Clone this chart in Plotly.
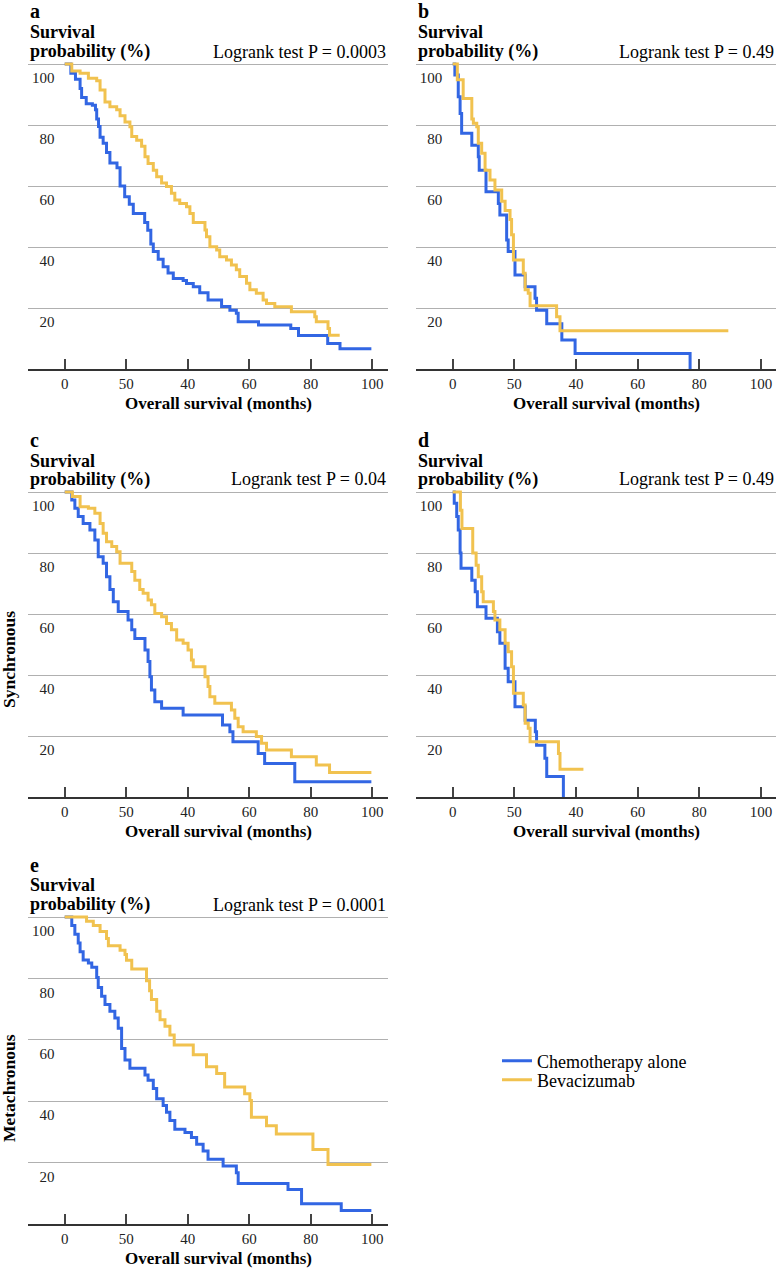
import plotly.graph_objects as go

W, H = 777, 1269
FONT = "Liberation Serif, Times New Roman, serif"
BLUE = "#3266E3"
GOLD = "#F1C24F"

# ---- data: Kaplan-Meier steps (month, survival %) ----
a_chemo = [(0,100),(2,97),(3.5,95),(5,92),(5.5,89),(7,87),(9,86.5),(10,85),(10.4,82),(11,79.5),(11.5,76),(12.5,74),(13.6,71),(14.7,67.5),(17,66),(18,60),(19.5,56.5),(21,54),(22.3,51),(26,48),(27,45.5),(28,41),(28.8,38.5),(30.4,36),(32,33.5),(33.6,31.5),(35.3,29.7),(38.5,29),(39.6,28),(41.8,27),(43.9,25),(46.6,22.6),(51,20.5),(53.7,19.3),(55.8,18.3),(56.4,15.5),(63,14.4),(73.5,13.3),(76,11),(85.5,8.4),(89.5,6.6),(99.7,6.6)]
a_bev = [(0,100),(2.3,97.7),(5,97),(7.7,95.3),(10.4,94.5),(11.5,91.5),(13.1,87.5),(14.7,86),(16.9,85),(18,83),(19.6,81),(21.2,79.4),(21.8,76.2),(23.4,75),(25,73),(26.1,69.6),(27.1,67.4),(28.8,65.2),(29.9,63),(31.5,61),(33.1,59.8),(34.7,57.6),(35.8,55.4),(37.4,54.3),(39.6,53.2),(40.7,51),(41.8,48),(45.6,45.6),(46.1,43.4),(47.2,40.1),(49.4,39),(50.4,36.8),(52.6,35.7),(54.2,34.1),(55.8,32.5),(56.9,30.3),(59.1,28.1),(60.2,26),(62.3,24.8),(64.5,22.6),(65.6,21.5),(68.3,20.4),(73.7,18.8),(81.3,17.1),(81.8,15.5),(85.6,13.3),(86.1,11.1),(89.4,11.1)]

b_chemo = [(0,100),(0.7,96.4),(1.8,89.3),(2.4,83.8),(2.9,77.3),(6.2,73.4),(8.3,69.6),(8.6,65.2),(10.8,58.1),(14.8,54.3),(15.3,50.5),(17.5,42.3),(18,38.5),(20.2,30.8),(23.5,27),(26.7,23.2),(27.2,19.3),(30.5,14.8),(35.4,9.5),(39.7,5.1),(77,0)]
b_bev = [(0,100),(1.5,94.8),(3.4,88.7),(6.2,82),(6.7,80.6),(7.8,79.4),(8.3,74),(9.4,70.7),(10.5,65.2),(12.1,62),(13.7,58.7),(15.9,55),(17,52),(18.6,49),(19.1,44),(19.7,35.7),(22.9,31.4),(23.5,26),(24.5,24.8),(25.1,20.7),(33.7,17.1),(34.8,12.5),(89.4,12.5)]

c_chemo = [(0,100),(2.3,97.4),(3.3,94.7),(4.4,92),(6,89.7),(8.2,87.5),(9.8,84.3),(10.9,78.8),(12.5,76.6),(13.6,72.2),(14.7,68),(15.8,64),(17.4,60.8),(20.6,58),(21.8,54.8),(22.8,52),(26.1,48.2),(27.1,44.4),(27.7,39.4),(28.2,35.1),(29.3,31.2),(31.5,29.1),(38.5,26.9),(51.3,23.6),(53.7,21.4),(54.7,18.1),(62.9,14.3),(65,11),(74.8,5),(99.7,5)]
c_bev = [(0,100),(2.5,98.5),(5,95.2),(7.7,94.7),(9.8,93),(11.5,89.7),(12.5,86.5),(13.6,83.7),(15.3,82.1),(16.9,80.4),(18,76.6),(21.8,73.9),(22.8,71.1),(24.4,68),(25.5,66.8),(27.1,64.6),(28.2,63),(29.3,60.2),(31.5,59.1),(33.1,56.9),(34.7,54.8),(36.4,51.5),(38.5,50.4),(40.1,48.2),(41.2,44.9),(41.8,42.7),(45.6,39.4),(46.6,36.2),(47.2,32.9),(48.8,30.7),(54.2,28.5),(55.3,25.8),(56.4,23),(58,21.4),(62.3,19.8),(64,17.6),(65.6,15.4),(73.7,13.2),(81.8,10.5),(86.1,8),(99.7,8)]

d_chemo = [(0,100),(0.5,96.3),(1.3,92),(1.8,87.5),(2.4,80),(2.7,75),(6.2,71.1),(7.3,67.3),(8,62.4),(10.8,58.6),(14.5,54.2),(15.3,50.4),(17,42.2),(18,37.8),(20.2,29.6),(23.5,25.2),(26.8,21.4),(27.2,17),(29.9,12.7),(30.5,6.7),(35.9,0)]
d_bev = [(0,100),(2.5,94),(3,88),(6.5,80),(7.6,76),(8.3,72.2),(9.4,67.3),(9.9,64),(13.2,60.8),(13.7,58),(15.3,54.8),(17,50.4),(18,47.6),(19.1,42.7),(19.7,34),(22.9,30.2),(23.5,24.2),(24.5,22.5),(25.1,18.1),(34.3,14.3),(34.8,9.1),(42.4,9.1)]

e_chemo = [(0,100),(2.3,97.2),(3.3,94.4),(4.4,91.5),(5,88.7),(6,86),(7.7,85),(8.8,83.6),(10.4,80.3),(10.9,77),(12,74.2),(13.1,71.5),(14.7,69.3),(16.3,67.1),(17.4,63.8),(18.5,57.2),(19.6,53.4),(21.2,50.7),(26.1,48.5),(27.1,46.8),(28.8,44.1),(29.9,40.8),(32,38.6),(33.1,36.4),(34.2,33.7),(35.8,30.9),(39.1,29.8),(41.2,28.2),(42.9,26),(45,23.8),(46.6,21.1),(51.5,18.9),(55.8,16.7),(56.4,13.2),(72.6,11.2),(77,6.6),(89.9,4.4),(99.7,4.4)]
e_bev = [(0,100),(7.1,98.6),(9.3,97.2),(11.5,95.3),(13.6,93),(14.2,90.6),(18,89.2),(19.6,87.8),(20.1,85.9),(21.8,83.1),(26.6,79.2),(27.6,76),(28.2,73.1),(29.9,69.3),(31,66.5),(32.6,64.4),(34.2,61.6),(35.6,58.3),(41.8,55.1),(46.1,51.2),(49.4,49),(52,44.6),(58.5,42.4),(60.2,40.2),(60.7,34.8),(65.6,32),(68.8,29.3),(80.7,24.3),(85.6,19.4),(99.7,19.4)]

panel_letters = ["a", "b", "c", "d", "e"]
pvalues = ["Logrank test P = 0.0003", "Logrank test P = 0.49", "Logrank test P = 0.04",
           "Logrank test P = 0.49", "Logrank test P = 0.0001"]
x_tickvals = [0, 20, 40, 60, 80, 100]
x_ticktext = ["0", "50", "40", "60", "80", "100"]
y_tickvals = [20, 40, 60, 80, 100]
y_ticktext = ["20", "40", "60", "80", "100"]
series_names = ["Chemotherapy alone", "Bevacizumab"]
row_labels = ["Synchronous", "Metachronous"]

curves = [(a_chemo, a_bev), (b_chemo, b_bev), (c_chemo, c_bev), (d_chemo, d_bev), (e_chemo, e_bev)]

# ---- layout geometry (pixels) ----
XMIN, XMAX, YMAX = -11.8, 105.0, 102.0
col_x0 = [(64.7, 372.3), (452.7, 761.0)]          # pixel of x=0, x=100
panel_pos = [  # (col, y0 px, y100 px)
    (0, 369, 64), (1, 369, 64), (0, 797, 492), (1, 797, 492), (0, 1224, 917)]

fig = go.Figure()
annotations = []

def xdom(c):
    x0, x100 = col_x0[c]
    u = (x100 - x0) / 100
    return [(x0 + XMIN * u) / W, (x0 + XMAX * u) / W], x0 + XMIN * u, x0 + XMAX * u

def ydom(y0, y100):
    u = (y0 - y100) / 100
    top = y0 - YMAX * u
    return [1 - y0 / H, 1 - top / H]

for i, (col, y0, y100) in enumerate(panel_pos):
    k = "" if i == 0 else str(i + 1)
    xd, left_px, right_px = xdom(col)
    yd = ydom(y0, y100)
    fig.layout["xaxis" + k] = dict(
        domain=xd, range=[XMIN, XMAX], anchor="y" + k, automargin=False,
        tickvals=x_tickvals, ticktext=x_ticktext,
        ticks="inside", ticklen=10, tickwidth=1.5, tickcolor="#444",
        showline=True, linecolor="#333", linewidth=1.5,
        showgrid=False, zeroline=False,
        tickfont=dict(family=FONT, size=15, color="#222"),
        fixedrange=True)
    fig.layout["yaxis" + k] = dict(
        domain=yd, range=[0, YMAX], anchor="free", automargin=False,
        position=(left_px + 26) / W,
        tickvals=y_tickvals, ticktext=y_ticktext,
        ticks="", showline=False, zeroline=False,
        showgrid=True, gridcolor="#b0b0b0", gridwidth=1,
        ticklabelshift=14,
        tickfont=dict(family=FONT, size=15, color="#222"),
        fixedrange=True)

    for j, data in enumerate(curves[i]):
        t = [p[0] for p in data]
        s = [p[1] for p in data]
        fig.add_trace(go.Scatter(
            x=t, y=s, mode="lines", line=dict(color=[BLUE, GOLD][j], width=3, shape="hv"),
            name=series_names[j], xaxis="x" + k, yaxis="y" + k,
            showlegend=(i == 0), legend="legend" if j == 0 else "legend2"))

    top = y100
    annotations += [
        dict(text="<b>" + panel_letters[i] + "</b>", xref="paper", yref="paper",
             x=left_px / W, y=1 - (top - 52.5) / H, xanchor="left", yanchor="middle",
             showarrow=False, font=dict(family=FONT, size=20, color="#000")),
        dict(text="<b>Survival</b>", xref="paper", yref="paper",
             x=left_px / W, y=1 - (top - 31.5) / H, xanchor="left", yanchor="middle",
             showarrow=False, font=dict(family=FONT, size=18, color="#000")),
        dict(text="<b>probability (%)</b>", xref="paper", yref="paper",
             x=left_px / W, y=1 - (top - 12.5) / H, xanchor="left", yanchor="middle",
             showarrow=False, font=dict(family=FONT, size=18, color="#000")),
        dict(text=pvalues[i], xref="paper", yref="paper",
             x=right_px / W, y=1 - (top - 12.5) / H, xanchor="right", yanchor="middle",
             showarrow=False, font=dict(family=FONT, size=18, color="#000")),
        dict(text="<b>Overall survival (months)</b>", xref="x" + k, yref="y" + k,
             x=50, y=0, yshift=-34, xanchor="center", yanchor="middle",
             showarrow=False, font=dict(family=FONT, size=17, color="#000")),
    ]

annotations += [
    dict(text="<b>" + row_labels[0] + "</b>", xref="paper", yref="paper",
         x=9 / W, y=1 - 660 / H, xanchor="center", yanchor="middle", textangle=-90,
         showarrow=False, font=dict(family=FONT, size=17.5, color="#000")),
    dict(text="<b>" + row_labels[1] + "</b>", xref="paper", yref="paper",
         x=9 / W, y=1 - 1088 / H, xanchor="center", yanchor="middle", textangle=-90,
         showarrow=False, font=dict(family=FONT, size=17.5, color="#000")),
]

leg_common = dict(xanchor="left", yanchor="middle", bgcolor="rgba(0,0,0,0)",
                  borderwidth=0, font=dict(family=FONT, size=18, color="#000"))
fig.update_layout(
    width=W, height=H, margin=dict(l=0, r=0, t=0, b=0, pad=0, autoexpand=False),
    paper_bgcolor="white", plot_bgcolor="white",
    annotations=annotations,
    legend=dict(x=497 / W, y=1 - 1061 / H, **leg_common),
    legend2=dict(x=497 / W, y=1 - 1080 / H, **leg_common),
    showlegend=True,
)

fig.write_html("out.html", config={"displayModeBar": False},
               post_script="document.body.style.margin='0px';document.body.style.overflow='hidden';")
